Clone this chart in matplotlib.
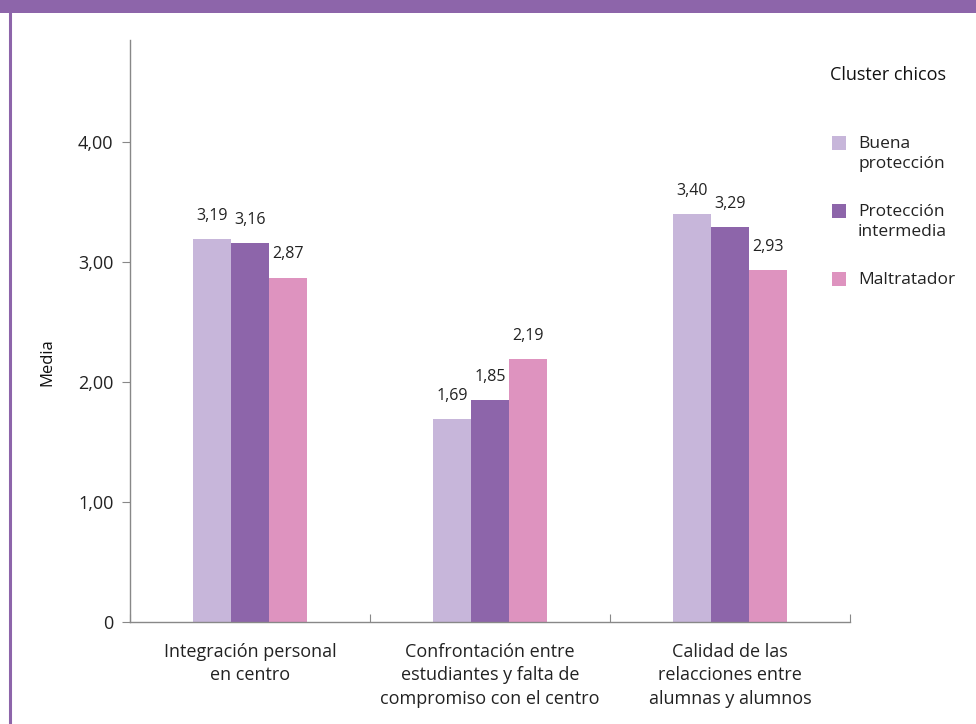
import matplotlib

matplotlib.use("Agg")
import matplotlib.pyplot as plt
import numpy as np
from matplotlib.lines import Line2D
from matplotlib.patches import Rectangle

# --- data --------------------------------------------------------------------
categories = [
    "Integración personal\nen centro",
    "Confrontación entre\nestudiantes y falta de\ncompromiso con el centro",
    "Calidad de las\nrelacciones entre\nalumnas y alumnos",
]
series_names = ["Buena\nprotección", "Protección\nintermedia", "Maltratador"]
buena = [3.19, 1.69, 3.40]
intermedia = [3.16, 1.85, 3.29]
maltratador = [2.87, 2.19, 2.93]
y_ticks = [0, 1, 2, 3, 4]
y_tick_labels = ["0", "1,00", "2,00", "3,00", "4,00"]
legend_title = "Cluster chicos"

colors = ["#C7B6DA", "#8D65AA", "#DE93BF"]
purple = "#8D65AA"
text_color = "#222222"

plt.rcParams["font.family"] = ["Open Sans", "DejaVu Sans"]

W, H = 976, 724
fig = plt.figure(figsize=(W / 100, H / 100), dpi=100)
ax = fig.add_axes([130 / W, 102 / H, 720 / W, 582 / H])

# frame decoration: header band + left rule
fig.patches.append(Rectangle((0, 711 / H), 1, 13 / H, transform=fig.transFigure,
                             facecolor=purple, edgecolor="none"))
fig.add_artist(Line2D([9.5 / W, 9.5 / W], [0, 711 / H], transform=fig.transFigure,
                      color=purple, lw=2.2))

x = np.arange(len(categories))
width = 0.158
for i, (vals, name) in enumerate(zip([buena, intermedia, maltratador], series_names)):
    pos = x + (i - 1) * width
    ax.bar(pos, vals, width, color=colors[i], label=name)
    for px, v in zip(pos, vals):
        ax.annotate(f"{v:.2f}".replace(".", ","), (px, v), textcoords="offset points",
                    xytext=(0, 11), ha="center", va="bottom", fontsize=11.5,
                    color=text_color)

ax.set_xlim(-0.5, 2.5)
ax.set_ylim(0, 4.85)
ax.set_xticks([-0.5, 0.5, 1.5, 2.5])
ax.set_xticklabels([])
ax.set_xticks(x, minor=True)
ax.set_xticklabels(categories, minor=True, fontsize=13, color=text_color, linespacing=1.4)
ax.tick_params(axis="x", which="minor", length=0, pad=15)
ax.tick_params(axis="x", which="major", length=6, color="#888", direction="in")
ax.set_yticks(y_ticks)
ax.set_yticklabels(y_tick_labels, fontsize=13, color=text_color)
ax.tick_params(axis="y", length=6, color="#888", pad=6)

for side in ["top", "right"]:
    ax.spines[side].set_visible(False)
for side in ["left", "bottom"]:
    ax.spines[side].set_color("#888")
    ax.spines[side].set_linewidth(1.0)

ax.set_ylabel("Media", fontsize=12, color="#111")
ax.yaxis.set_label_coords(-0.103, 0.447)

# legend drawn by hand so the swatch lines up with the first line of each label
fig.text(830 / W, 1 - 75 / H, legend_title, fontsize=13, color="#111",
         ha="left", va="center")
legend_rows = [143, 211, 279]
for name, col, yr in zip(series_names, colors, legend_rows):
    fig.patches.append(Rectangle((832 / W, 1 - (yr + 7) / H), 14 / W, 14 / H,
                                 transform=fig.transFigure, facecolor=col,
                                 edgecolor="none"))
    fig.text(858 / W, 1 - (yr - 7) / H, name, fontsize=12.5, color=text_color,
             ha="left", va="top", linespacing=1.35)

fig.savefig("out.png", dpi=100)
